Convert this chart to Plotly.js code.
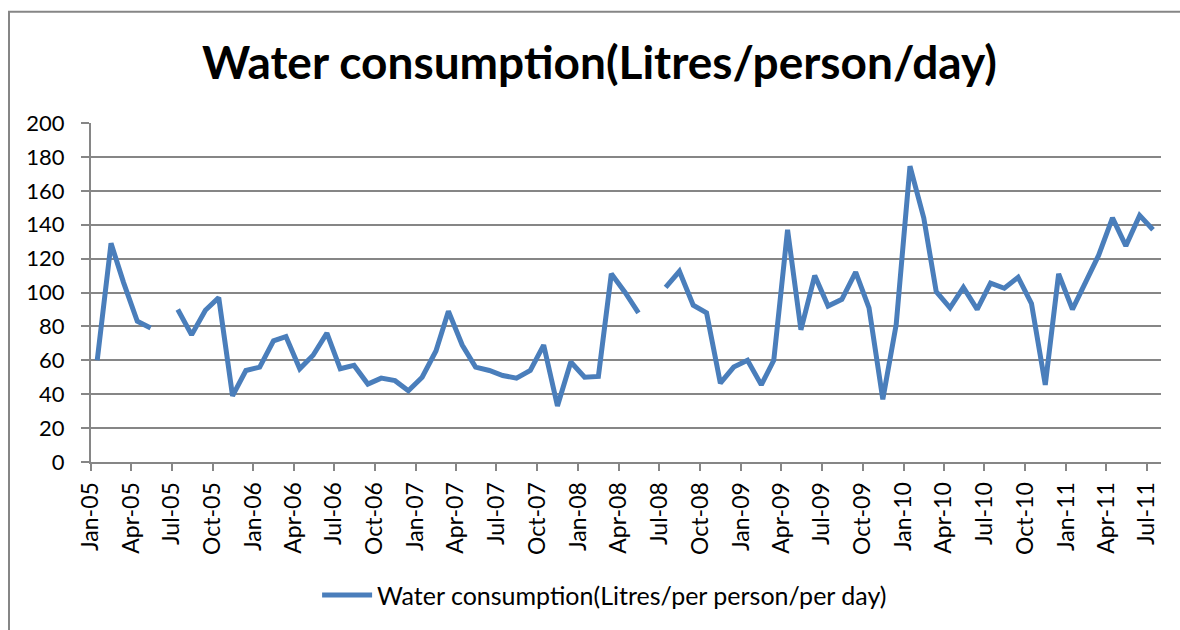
<!DOCTYPE html>
<html>
<head>
<meta charset="utf-8">
<script src="https://cdn.plot.ly/plotly-3.0.1.min.js"></script>
<style>
  html, body { margin: 0; padding: 0; background: #fff; overflow: hidden; }
  #chart { width: 1180px; height: 630px; }
</style>
</head>
<body>
<div id="chart"></div>
<script>
const months = [
  '2005-01-15','2005-02-15','2005-03-15','2005-04-15','2005-05-15','2005-06-15',
  '2005-07-15','2005-08-15','2005-09-15','2005-10-15','2005-11-15','2005-12-15',
  '2006-01-15','2006-02-15','2006-03-15','2006-04-15','2006-05-15','2006-06-15',
  '2006-07-15','2006-08-15','2006-09-15','2006-10-15','2006-11-15','2006-12-15',
  '2007-01-15','2007-02-15','2007-03-15','2007-04-15','2007-05-15','2007-06-15',
  '2007-07-15','2007-08-15','2007-09-15','2007-10-15','2007-11-15','2007-12-15',
  '2008-01-15','2008-02-15','2008-03-15','2008-04-15','2008-05-15','2008-06-15',
  '2008-07-15','2008-08-15','2008-09-15','2008-10-15','2008-11-15','2008-12-15',
  '2009-01-15','2009-02-15','2009-03-15','2009-04-15','2009-05-15','2009-06-15',
  '2009-07-15','2009-08-15','2009-09-15','2009-10-15','2009-11-15','2009-12-15',
  '2010-01-15','2010-02-15','2010-03-15','2010-04-15','2010-05-15','2010-06-15',
  '2010-07-15','2010-08-15','2010-09-15','2010-10-15','2010-11-15','2010-12-15',
  '2011-01-15','2011-02-15','2011-03-15','2011-04-15','2011-05-15','2011-06-15',
  '2011-07-15'
];

const consumption = [
  60, 129, 106, 83, 79, null,
  90, 75, 89.5, 97, 39, 54,
  56, 71.5, 74, 55, 63, 76,
  55, 57, 46, 49.5, 48, 42,
  50, 65.5, 89, 69, 56, 54,
  51, 49.5, 54, 69, 33, 59,
  50, 50.5, 111, 100, 88, null,
  103, 112.5, 92.5, 88, 46.5, 56,
  60, 45.5, 60, 137, 78, 110,
  92, 96, 112, 91, 37, 81,
  174.5, 144, 100.5, 91, 103, 90,
  105.5, 102.5, 109, 93.5, 45.5, 111,
  90, 106, 122, 144, 127.5, 145.5,
  137
];

const seriesName = 'Water consumption(Litres/per person/per day)';
const chartTitle = 'Water consumption(Litres/person/day)';
const xRange = ['2005-01-01', '2011-08-02'];
const yRange = [0, 200];

const trace = {
  x: months,
  y: consumption,
  type: 'scatter',
  mode: 'lines',
  name: seriesName,
  connectgaps: false,
  line: { color: '#4a7ebb', width: 5 },
  showlegend: true
};

// plot area: left 91, right 1161, top 123, bottom 464 (px)
const plotL = 91, plotW = 1070, plotB = 464, plotH = 341;

const layout = {
  width: 1180,
  height: 630,
  margin: { l: 91, r: 19, t: 123, b: 166 },
  paper_bgcolor: '#ffffff',
  plot_bgcolor: '#ffffff',
  font: { family: 'Lato, "Open Sans", sans-serif', color: '#000' },
  title: {
    text: '<b>' + chartTitle + '</b>',
    font: { family: 'Lato, sans-serif', size: 46, color: '#000' },
    x: 0.508, xanchor: 'center',
    y: 1 - 63 / 630, yanchor: 'middle', yref: 'container'
  },
  xaxis: {
    type: 'date',
    range: xRange,
    tick0: '2005-01-01',
    dtick: 'M3',
    tickformat: '%b-%y',
    tickangle: -90,
    ticks: 'outside',
    ticklen: 7,
    tickwidth: 2,
    tickcolor: '#868686',
    showline: true,
    linecolor: '#868686',
    linewidth: 2,
    showgrid: false,
    zeroline: false,
    tickfont: { family: 'Lato, sans-serif', size: 23, color: '#000' },
    ticklabelstandoff: 2,
    fixedrange: true
  },
  yaxis: {
    range: yRange,
    dtick: 20,
    ticks: 'outside',
    ticklen: 8,
    tickwidth: 2,
    tickcolor: '#868686',
    showline: true,
    linecolor: '#868686',
    linewidth: 2,
    showgrid: true,
    gridcolor: '#868686',
    gridwidth: 2,
    zeroline: false,
    tickfont: { family: 'Lato, sans-serif', size: 22, color: '#000' },
    ticklabelstandoff: 12,
    fixedrange: true
  },
  shapes: [
    { type: 'line', xref: 'paper', yref: 'paper', layer: 'below',
      x0: (9 - plotL) / plotW, x1: (9 - plotL) / plotW,
      y0: (plotB - 640) / plotH, y1: (plotB - 11) / plotH,
      line: { color: '#868686', width: 2 } },
    { type: 'line', xref: 'paper', yref: 'paper', layer: 'below',
      x0: (8 - plotL) / plotW, x1: (1190 - plotL) / plotW,
      y0: (plotB - 11) / plotH, y1: (plotB - 11) / plotH,
      line: { color: '#868686', width: 2 } }
  ],
  showlegend: true,
  legend: {
    orientation: 'h',
    x: 0.48, xanchor: 'center',
    y: (464 - 598) / 341, yanchor: 'middle',
    font: { family: 'Lato, sans-serif', size: 25, color: '#000' },
    bgcolor: 'rgba(0,0,0,0)',
    itemwidth: 50
  }
};

Plotly.newPlot('chart', [trace], layout, { staticPlot: true, displayModeBar: false });
</script>
</body>
</html>
